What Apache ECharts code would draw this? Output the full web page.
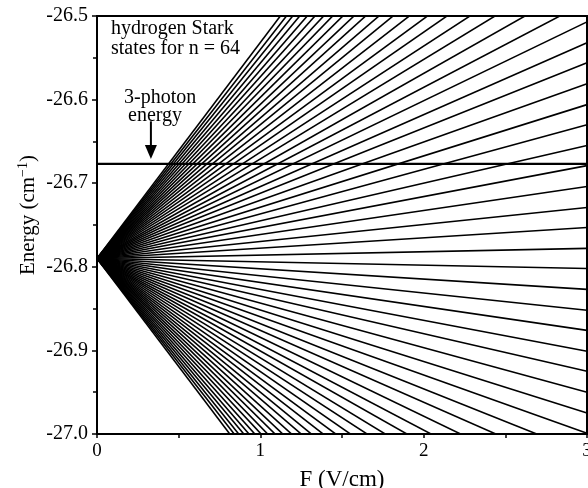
<!DOCTYPE html>
<html><head><meta charset="utf-8">
<script src="https://cdn.jsdelivr.net/npm/echarts@6/dist/echarts.min.js"></script>
<style>html,body{margin:0;padding:0;background:#fff}#c{width:588px;height:488px}</style>
</head><body><div id="c"></div>
<script>
// Zero-field energy (cm^-1) of n = 64
var zeroFieldEnergy = -26.79;
// Field values (V/cm) at which each Stark line is sampled
var fieldPoints = [0, 3];
// Energies (cm^-1) of the 64 Stark states (k = -63..63, odd) at F = 3 V/cm
var energyAtF3 = [
 -27.565,-27.540,-27.516,-27.491,-27.467,-27.442,-27.417,-27.393,
 -27.368,-27.344,-27.319,-27.294,-27.270,-27.245,-27.221,-27.196,
 -27.171,-27.147,-27.122,-27.098,-27.073,-27.048,-27.024,-26.999,
 -26.975,-26.950,-26.925,-26.901,-26.876,-26.852,-26.827,-26.802,
 -26.778,-26.753,-26.729,-26.704,-26.679,-26.655,-26.630,-26.606,
 -26.581,-26.556,-26.532,-26.507,-26.483,-26.458,-26.433,-26.409,
 -26.384,-26.360,-26.335,-26.310,-26.286,-26.261,-26.237,-26.212,
 -26.187,-26.163,-26.138,-26.114,-26.089,-26.064,-26.040,-26.015
];
// 3-photon energy (cm^-1)
var photonEnergy = -26.677;
var xTicks = [0, 1, 2, 3];
var yTicks = [-27.0, -26.9, -26.8, -26.7, -26.6, -26.5];

var FONT = '"Liberation Serif","DejaVu Serif",serif';
var chart = echarts.init(document.getElementById('c'), null, {renderer: 'canvas'});

var series = energyAtF3.map(function (e) {
  return {
    type: 'line', symbol: 'none', silent: true, animation: false, clip: true,
    lineStyle: {color: '#000', width: 1.6},
    data: [[fieldPoints[0], zeroFieldEnergy], [fieldPoints[1], e]]
  };
});
series.push({
  type: 'line', symbol: 'none', silent: true, animation: false, clip: true,
  lineStyle: {color: '#000', width: 2.2},
  data: [[fieldPoints[0], photonEnergy], [fieldPoints[1], photonEnergy]]
});

chart.setOption({
  animation: false,
  backgroundColor: '#fff',
  grid: {left: 97, right: 1, top: 16, bottom: 54, containLabel: false, outerBoundsMode: 'none',
    show: true, borderColor: '#000', borderWidth: 2, backgroundColor: 'transparent'},
  xAxis: {
    type: 'value', min: xTicks[0], max: xTicks[xTicks.length - 1], interval: 1,
    axisLine: {show: true, lineStyle: {color: '#000', width: 2}},
    axisTick: {show: true, length: 4, lineStyle: {color: '#000', width: 1.5}},
    minorTick: {show: true, splitNumber: 2, length: 4, lineStyle: {color: '#000', width: 1.5}},
    splitLine: {show: false},
    axisLabel: {color: '#000', fontFamily: FONT, fontSize: 19, margin: 8, showMaxLabel: true},
    name: 'F (V/cm)', nameLocation: 'middle', nameGap: 34,
    nameTextStyle: {color: '#000', fontFamily: FONT, fontSize: 23}
  },
  yAxis: {
    type: 'value', min: yTicks[0], max: yTicks[yTicks.length - 1], interval: 0.1,
    axisLine: {show: true, lineStyle: {color: '#000', width: 2}},
    axisTick: {show: true, length: 5, lineStyle: {color: '#000', width: 1.5}},
    minorTick: {show: true, splitNumber: 2, length: 4, lineStyle: {color: '#000', width: 1.5}},
    splitLine: {show: false},
    axisLabel: {color: '#000', fontFamily: FONT, fontSize: 20, margin: 9,
      formatter: function (v) { return v.toFixed(1); }}
  },
  series: series
});

var p1 = chart.convertToPixel({gridIndex: 0}, [0.33, -26.626]);
var p2 = chart.convertToPixel({gridIndex: 0}, [0.33, -26.671]);
chart.setOption({
  graphic: [
    {type: 'text', left: 16, top: 155, rotation: Math.PI / 2, silent: true,
     style: {text: '{a|Energy (cm}{s|−1}{a|)}', fill: '#000',
       rich: {a: {fontFamily: FONT, fontSize: 21, fill: '#000'},
              s: {fontFamily: FONT, fontSize: 14, fill: '#000', verticalAlign: 'top', padding: [0, 0, 10, 0]}}}},
    {type: 'text', x: 111, y: 19, silent: true,
     style: {text: 'hydrogen Stark\nstates for n = 64', fill: '#000', font: '20px ' + FONT, lineHeight: 20}},
    {type: 'text', x: 124, y: 88, silent: true,
     style: {text: '3-photon', fill: '#000', font: '20px ' + FONT}},
    {type: 'text', x: 128, y: 106, silent: true,
     style: {text: 'energy', fill: '#000', font: '20px ' + FONT}},
    {type: 'line', silent: true, shape: {x1: p1[0], y1: p1[1], x2: p2[0], y2: p2[1] - 10},
     style: {stroke: '#000', lineWidth: 2}},
    {type: 'polygon', silent: true,
     shape: {points: [[p2[0] - 6, p2[1] - 14], [p2[0] + 6, p2[1] - 14], [p2[0], p2[1]]]},
     style: {fill: '#000'}}
  ]
});
</script></body></html>
